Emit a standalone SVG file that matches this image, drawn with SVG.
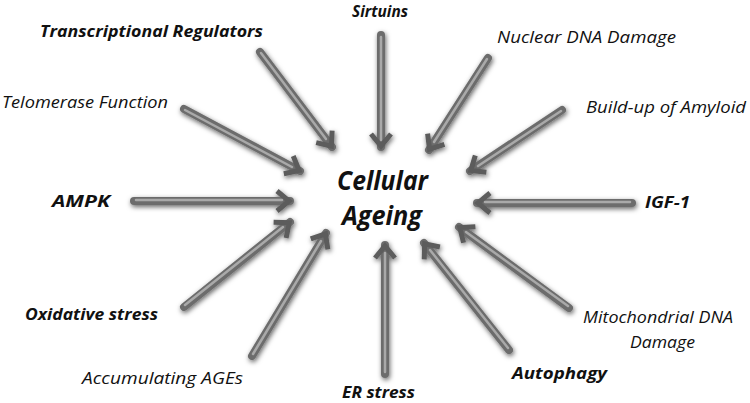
<svg xmlns="http://www.w3.org/2000/svg" width="750" height="403" viewBox="0 0 750 403">
<style>
text{font-family:"Open Sans",Lato,"Liberation Sans",sans-serif;font-style:italic;fill:#111;font-size:16.5px}
.b{font-weight:bold}
.c{font-weight:bold;font-size:27px}
.sh{stroke:#6c6c6c;stroke-width:8;stroke-linecap:round;marker-end:url(#ah)}
.hl{stroke:#a9a9a9;stroke-width:2.5;stroke-linecap:round}
</style>
<defs>
<filter id="ds" x="-20%" y="-20%" width="140%" height="140%">
<feDropShadow dx="1" dy="2" stdDeviation="2.4" flood-color="#000" flood-opacity="0.6"/>
</filter>
<marker id="ah" markerUnits="userSpaceOnUse" markerWidth="30" markerHeight="30" viewBox="-20 -15 30 30" refX="0" refY="0" orient="auto" overflow="visible">
<path d="M-13,-10 L-1,0 L-13,10" fill="none" stroke="#5c5c5c" stroke-width="5" stroke-linejoin="miter"/>
</marker>
</defs>
<rect width="750" height="403" fill="#fff"/>
<g id="connectors" filter="url(#ds)">
<line class="sh" x1="381" y1="35" x2="381" y2="147"/><line class="hl" x1="381" y1="37" x2="381" y2="140"/>
<line class="sh" x1="260" y1="52" x2="332" y2="147"/><line class="hl" x1="261" y1="53" x2="326" y2="139"/>
<line class="sh" x1="488" y1="58" x2="429" y2="150"/><line class="hl" x1="487" y1="59" x2="434" y2="142"/>
<line class="sh" x1="562" y1="110" x2="470" y2="171"/><line class="hl" x1="561" y1="111" x2="478" y2="166"/>
<line class="sh" x1="184" y1="109" x2="300" y2="171"/><line class="hl" x1="185" y1="110" x2="292" y2="167"/>
<line class="sh" x1="134" y1="201" x2="290" y2="201"/><line class="hl" x1="136" y1="200" x2="282" y2="200"/>
<line class="sh" x1="632" y1="203" x2="477" y2="203"/><line class="hl" x1="630" y1="202" x2="485" y2="202"/>
<line class="sh" x1="184" y1="307" x2="290" y2="222"/><line class="hl" x1="185" y1="305" x2="283" y2="227"/>
<line class="sh" x1="252" y1="356" x2="326" y2="233"/><line class="hl" x1="253" y1="354" x2="321" y2="241"/>
<line class="sh" x1="385" y1="374" x2="385" y2="245"/><line class="hl" x1="385" y1="372" x2="385" y2="253"/>
<line class="sh" x1="509" y1="350" x2="424" y2="243"/><line class="hl" x1="508" y1="348" x2="430" y2="250"/>
<line class="sh" x1="569" y1="308" x2="459" y2="227"/><line class="hl" x1="568" y1="306" x2="466" y2="232"/>
</g>
<g id="center"><text class="c" x="337" y="190" textLength="91" lengthAdjust="spacingAndGlyphs">Cellular</text><text class="c" x="342" y="225" textLength="80" lengthAdjust="spacingAndGlyphs">Ageing</text></g>
<g id="sirtuins"><text class="b" x="352" y="17" textLength="56" lengthAdjust="spacingAndGlyphs">Sirtuins</text></g>
<g id="transcriptional"><text class="b" x="40" y="37" textLength="223" lengthAdjust="spacingAndGlyphs">Transcriptional Regulators</text></g>
<g id="telomerase"><text x="2" y="108" textLength="166" lengthAdjust="spacingAndGlyphs">Telomerase Function</text></g>
<g id="nuclear"><text x="497" y="43" textLength="179" lengthAdjust="spacingAndGlyphs">Nuclear DNA Damage</text></g>
<g id="amyloid"><text x="586" y="113" textLength="160" lengthAdjust="spacingAndGlyphs">Build-up of Amyloid</text></g>
<g id="ampk"><text class="b" x="52" y="207" textLength="58" lengthAdjust="spacingAndGlyphs">AMPK</text></g>
<g id="igf1"><text class="b" x="645" y="208" textLength="45" lengthAdjust="spacingAndGlyphs">IGF-1</text></g>
<g id="oxidative"><text class="b" x="25" y="320" textLength="133" lengthAdjust="spacingAndGlyphs">Oxidative stress</text></g>
<g id="mito"><text x="583" y="323" textLength="150" lengthAdjust="spacingAndGlyphs">Mitochondrial DNA</text><text x="630" y="348" textLength="65" lengthAdjust="spacingAndGlyphs">Damage</text></g>
<g id="ages"><text x="82" y="384" textLength="161" lengthAdjust="spacingAndGlyphs">Accumulating AGEs</text></g>
<g id="er"><text class="b" x="342" y="398" textLength="73" lengthAdjust="spacingAndGlyphs">ER stress</text></g>
<g id="autophagy"><text class="b" x="512" y="379" textLength="95" lengthAdjust="spacingAndGlyphs">Autophagy</text></g>
</svg>
